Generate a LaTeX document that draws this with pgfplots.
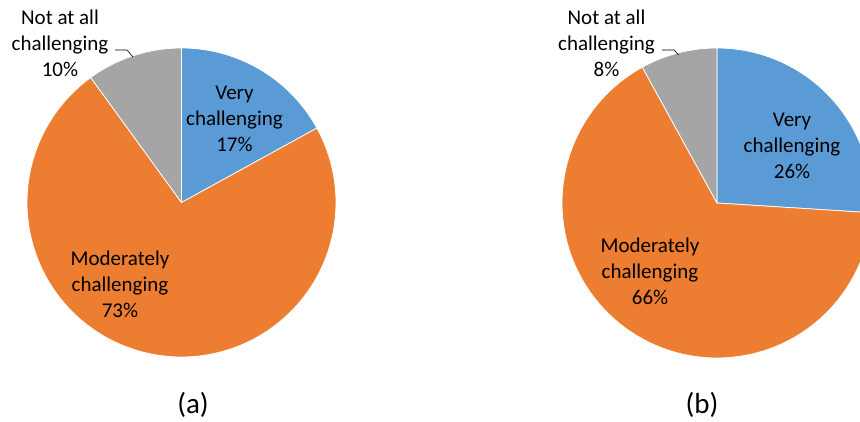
\documentclass[border=0pt]{standalone}
\usepackage{fontspec}
\setmainfont{Carlito}
\usepackage{pgfplots}
\usepackage{pgfplotstable}
\pgfplotsset{compat=1.18}

\definecolor{pieblue}{HTML}{5B9BD5}
\definecolor{pieorange}{HTML}{ED7D31}
\definecolor{piegray}{HTML}{A5A5A5}

% shares in percent, clockwise from 12 o'clock
\pgfplotstableread{
share value
Very 17
Moderately 73
Not 10
}\pieA
\pgfplotstableread{
share value
Very 26
Moderately 66
Not 8
}\pieB

\newcommand{\getshare}[3]{\pgfplotstablegetelem{#2}{value}\of#1\let#3\pgfplotsretval}
% cx, cy, r, angle from, angle to, colour
\newcommand{\pieslice}[6]{%
  \addplot[fill=#6, draw=white, line width=0.75pt, domain=#4:#5, samples=90]
    ({#1+#3*cos(x)},{#2+#3*sin(x)}) -- (axis cs:#1,#2) -- cycle;}

\tikzset{lbl/.style={font=\fontsize{21}{26}\selectfont, align=center, inner sep=0pt}}

\begin{document}
\begin{tikzpicture}
\getshare\pieA{0}\aV \getshare\pieA{1}\aM
\pgfmathsetmacro\aOne{90-3.6*\aV}
\pgfmathsetmacro\aTwo{\aOne-3.6*\aM}
\getshare\pieB{0}\bV \getshare\pieB{1}\bM
\pgfmathsetmacro\bOne{90-3.6*\bV}
\pgfmathsetmacro\bTwo{\bOne-3.6*\bM}
\begin{axis}[
    width=860pt, height=421pt, scale only axis,
    xmin=0, xmax=860, ymin=0, ymax=421,
    hide axis, clip=true,
]
% (a)
\pieslice{181.5}{218.5}{154.5}{\aOne}{90}{pieblue}
\pieslice{181.5}{218.5}{154.5}{\aTwo}{\aOne}{pieorange}
\pieslice{181.5}{218.5}{154.5}{-270}{\aTwo}{piegray}
% (b)
\pieslice{717}{218}{155}{\bOne}{90}{pieblue}
\pieslice{717}{218}{155}{\bTwo}{\bOne}{pieorange}
\pieslice{717}{218}{155}{-270}{\bTwo}{piegray}

\addplot[black, line width=0.6pt] coordinates {(115,371) (127,371) (133,364)};
\addplot[black, line width=0.6pt] coordinates {(662,371) (674,371) (678.5,366)};

\node[lbl] at (axis cs:234.5,302) {Very\\challenging\\17\%};
\node[lbl] at (axis cs:120,137) {Moderately\\challenging\\73\%};
\node[lbl] at (axis cs:60,378) {Not at all\\challenging\\10\%};
\node[lbl] at (axis cs:792,275) {Very\\challenging\\26\%};
\node[lbl] at (axis cs:650,150) {Moderately\\challenging\\66\%};
\node[lbl] at (axis cs:606.5,378) {Not at all\\challenging\\8\%};

\node[font=\fontsize{29}{34}\selectfont] at (axis cs:193,16) {(a)};
\node[font=\fontsize{29}{34}\selectfont] at (axis cs:702,16) {(b)};

\path (axis cs:0,0) rectangle (axis cs:860,421);
\end{axis}
\end{tikzpicture}
\end{document}
